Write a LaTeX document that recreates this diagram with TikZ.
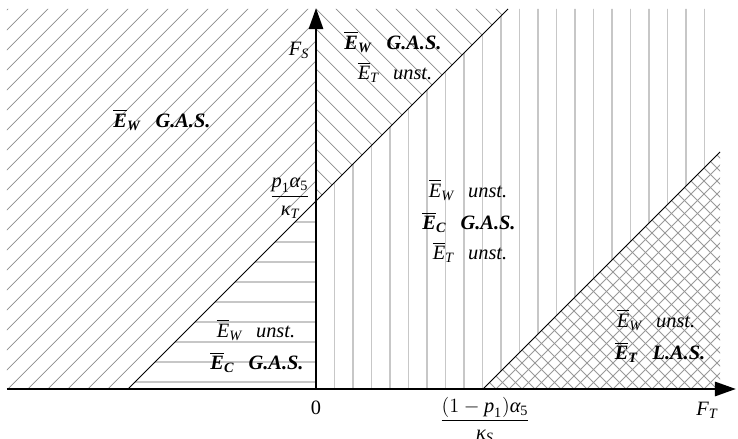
\documentclass[tikz,border=0pt]{standalone}
\usepackage{amsmath}
\usepackage{fontspec}
\setmainfont{Liberation Serif}
\usetikzlibrary{arrows.meta}
\newcommand{\Ebar}[1]{$\overline{\textit{E}}_{\textit{#1}}$}
\newcommand{\Ebold}[1]{$\overline{\textbf{\textit{E}}}_{\textbf{\textit{#1}}}$}
\newcommand{\gap}{\hspace{0.7em}}

\begin{document}
\begin{tikzpicture}[x=0.5cm, y=0.5cm,
  axis/.style={line width=2pt, -{Triangle[length=15pt, width=10pt]}},
  bound/.style={line width=0.7pt},
  hatchdiag/.style={black!45, line width=0.5pt},
  hatchstraight/.style={black!22, line width=1.3pt},
  hatchcross/.style={black!40, line width=0.6pt},
  lbl/.style={font=\fontsize{14.5}{17}\selectfont, inner sep=0pt}]
\useasboundingbox (-15.8,-2.5) rectangle (21.1,19.45);
% corners of the regions
\coordinate (bl)  at (-15.45,0);
\coordinate (tl)  at (-15.45,19);
\coordinate (o)   at (0,0);
\coordinate (tm)  at (0,19);
\coordinate (tr)  at (20.2,19);
\coordinate (br)  at (20.2,0);
\coordinate (l1b) at (-9.4,0);
\coordinate (l1m) at (0,9.4);
\coordinate (l1t) at (9.6,19);
\coordinate (l2b) at (8.35,0);
\coordinate (l2t) at (20.2,11.85);
\coordinate (xend) at (21.0,0);
\coordinate (yend) at (0,19.05);
% hatching
\begin{scope}
\clip (bl) -- (l1b) -- (l1m) -- (tm) -- (tl) -- cycle;
\foreach \k in {10,...,35} \draw[hatchdiag] (-16,\k-15.6) -- ++(36,36);
\end{scope}
\begin{scope}
\clip (l1m) -- (tm) -- (l1t) -- cycle;
\foreach \k in {10,...,29} \draw[hatchdiag] (-1,\k+1) -- ++(22,-22);
\end{scope}
\begin{scope}
\clip (l1b) -- (o) -- (l1m) -- cycle;
\foreach \k in {0,...,9} \draw[hatchstraight] (-10,\k+0.35) -- (0.5,\k+0.35);
\end{scope}
\begin{scope}
\clip (o) -- (l1m) -- (l1t) -- (tr) -- (l2t) -- (l2b) -- cycle;
\foreach \k in {1,...,22} \draw[hatchstraight] (0.925*\k,-1) -- (0.925*\k,20);
\end{scope}
\begin{scope}
\clip (l2b) -- (l2t) -- (br) -- cycle;
\foreach \k in {0,...,37}
  \draw[hatchcross] (8.35+0.65*\k+1,-1) -- ++(-14,14) (8.35+0.65*\k-1,-1) -- ++(14,14);
\end{scope}
% boundaries and axes
\draw[bound] (l1b) -- (l1t);
\draw[bound] (l2b) -- (l2t);
\draw[axis] (bl) -- (xend);
\draw[axis] (o) -- (yend);
% labels
\node[lbl] (fs)    at (-0.85,16.95) {$\textit{F}_{\textit{S}}$};
\node[lbl] (ft)    at (19.55,-1.05) {$\textit{F}_{\textit{T}}$};
\node[lbl] (zero)  at (0,-0.95) {0};
\node[lbl] (ks)    at (-1.3,9.55) {$\dfrac{\textit{p}_{\textrm{1}}\textit{α}_{\textrm{5}}}{\textit{κ}_{\textit{T}}}$};
\node[lbl] (kt)    at (8.45,-1.55) {$\dfrac{(1-\textit{p}_{\textrm{1}})\textit{α}_{\textrm{5}}}{\textit{κ}_{\textit{S}}}$};
\node[lbl] (wleft) at (-7.7,13.45) {\Ebold{W}\gap\textbf{\textit{G.A.S.}}};
\node[lbl] (wtop)  at (3.85,17.35) {\Ebold{W}\gap\textbf{\textit{G.A.S.}}};
\node[lbl] (ttop)  at (3.95,15.85) {\Ebar{T}\gap\textit{unst.}};
\node[lbl] (wmid)  at (7.6,9.95) {\Ebar{W}\gap\textit{unst.}};
\node[lbl] (cmid)  at (7.65,8.35) {\Ebold{C}\gap\textbf{\textit{G.A.S.}}};
\node[lbl] (tmid)  at (7.7,6.85) {\Ebar{T}\gap\textit{unst.}};
\node[lbl] (wlow)  at (-3.0,2.95) {\Ebar{W}\gap\textit{unst.}};
\node[lbl] (clow)  at (-2.95,1.35) {\Ebold{C}\gap\textbf{\textit{G.A.S.}}};
\node[lbl] (wrt)   at (17.0,3.45) {\Ebar{W}\gap\textit{unst.}};
\node[lbl] (trt)   at (17.2,1.85) {\Ebold{T}\gap\textbf{\textit{L.A.S.}}};
\end{tikzpicture}
\end{document}
